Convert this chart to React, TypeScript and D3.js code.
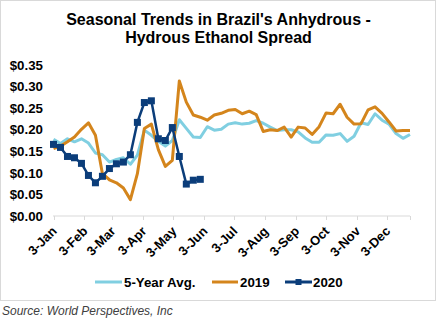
import React from "react";
import * as d3 from "d3";

const W = 437;
const H = 321;

const title1 = "Seasonal Trends in Brazil's Anhydrous -";
const title2 = "Hydrous Ethanol Spread";
const sourceText = "Source: World Perspectives, Inc";

const seriesNames = ["5-Year Avg.", "2019", "2020"];
const seriesColors = ["#80cfe1", "#d4851c", "#0b3d7a"];

const startDate = new Date(2019, 0, 3);
const endDate = new Date(2019, 11, 26);

const avg5 = [
  0.178, 0.168, 0.179, 0.172, 0.179, 0.169, 0.146, 0.142, 0.125, 0.131,
  0.135, 0.12, 0.141, 0.199, 0.187, 0.173, 0.162, 0.175, 0.223, 0.203,
  0.183, 0.182, 0.207, 0.199, 0.201, 0.213, 0.216, 0.213, 0.215, 0.221,
  0.215, 0.206, 0.198, 0.2, 0.2, 0.195, 0.181, 0.171, 0.171, 0.188,
  0.187, 0.191, 0.173, 0.185, 0.216, 0.212, 0.237, 0.222, 0.213, 0.191,
  0.18, 0.189,
];

const y2019 = [
  0.156, 0.162, 0.172, 0.183, 0.201, 0.216, 0.187, 0.098, 0.084, 0.077,
  0.065, 0.038, 0.098, 0.203, 0.213, 0.154, 0.115, 0.129, 0.313, 0.264,
  0.234, 0.229, 0.222, 0.234, 0.238, 0.245, 0.247, 0.237, 0.243, 0.235,
  0.196, 0.2, 0.198, 0.206, 0.183, 0.206, 0.204, 0.189, 0.207, 0.239,
  0.237, 0.259, 0.229, 0.213, 0.214, 0.246, 0.253, 0.238, 0.218, 0.197,
  0.198, 0.198,
];

const y2020 = [
  0.166, 0.159, 0.138, 0.135, 0.122, 0.094, 0.077, 0.092, 0.11, 0.121,
  0.125, 0.142, 0.217, 0.263, 0.267, 0.179, 0.175, 0.205, 0.138, 0.074,
  0.083, 0.085,
];

const yTicks = [0, 0.05, 0.1, 0.15, 0.2, 0.25, 0.3, 0.35];

export default function App() {
  const x = d3.scaleTime().domain([startDate, endDate]).range([53.5, 410]);
  const y = d3.scaleLinear().domain([0, 0.35]).range([216, 65]);

  const dateOf = (i: number) => d3.timeDay.offset(startDate, 7 * i);
  const line = d3
    .line<number>()
    .x((_, i) => x(dateOf(i)))
    .y((d) => y(d));

  const xTicks = d3.range(12).map((m) => new Date(2019, m, 3));
  const fmtX = d3.timeFormat("%-d-%b");
  const fmtY = d3.format("$.2f");

  const font = "Liberation Sans, Arial, sans-serif";

  const legendItems = [
    { name: seriesNames[0], color: seriesColors[0], x0: 95, x1: 122, tx: 124, marker: false },
    { name: seriesNames[1], color: seriesColors[1], x0: 212, x1: 238, tx: 240, marker: false },
    { name: seriesNames[2], color: seriesColors[2], x0: 285, x1: 312, tx: 313, marker: true },
  ];

  return (
    <svg
      width={W}
      height={H}
      style={{ position: "absolute", left: 0, top: 0, background: "#fff" }}
      fontFamily={font}
    >
      <rect x={0.5} y={0.5} width={435} height={300} fill="#fff" stroke="#d9d9d9" />
      <text x={218.5} y={25} textAnchor="middle" fontSize={16} fontWeight="bold" fill="#000">
        {title1}
      </text>
      <text x={218.5} y={43} textAnchor="middle" fontSize={16} fontWeight="bold" fill="#000">
        {title2}
      </text>

      {yTicks.map((t) => (
        <text
          key={t}
          x={43}
          y={y(t)}
          dy="0.35em"
          textAnchor="end"
          fontSize={13.3}
          fontWeight="bold"
          fill="#000"
        >
          {fmtY(t)}
        </text>
      ))}

      <line x1={53} x2={410} y1={216} y2={216} stroke="#d9d9d9" strokeWidth={1} />
      {xTicks.concat([endDate]).map((d, i) => (
        <line
          key={i}
          x1={Math.round(x(d)) + 0.5}
          x2={Math.round(x(d)) + 0.5}
          y1={216}
          y2={220}
          stroke="#d9d9d9"
        />
      ))}
      {xTicks.map((d, i) => (
        <text
          key={i}
          transform={`translate(${x(d) + 4},${232}) rotate(-45)`}
          textAnchor="end"
          fontSize={13}
          fontWeight="bold"
          fill="#000"
        >
          {fmtX(d)}
        </text>
      ))}

      <path d={line(avg5) || ""} fill="none" stroke={seriesColors[0]} strokeWidth={3} strokeLinejoin="round" />
      <path d={line(y2019) || ""} fill="none" stroke={seriesColors[1]} strokeWidth={3} strokeLinejoin="round" />
      <path d={line(y2020) || ""} fill="none" stroke={seriesColors[2]} strokeWidth={2.5} strokeLinejoin="round" />
      {y2020.map((v, i) => (
        <rect
          key={i}
          x={x(dateOf(i)) - 3.5}
          y={y(v) - 3.5}
          width={7}
          height={7}
          fill={seriesColors[2]}
        />
      ))}

      {legendItems.map((it) => (
        <g key={it.name}>
          <line x1={it.x0} x2={it.x1} y1={282} y2={282} stroke={it.color} strokeWidth={3} />
          {it.marker && (
            <rect x={(it.x0 + it.x1) / 2 - 3} y={279} width={6} height={6} fill={it.color} />
          )}
          <text x={it.tx} y={282} dy="0.35em" fontSize={13.3} fontWeight="bold" fill="#000">
            {it.name}
          </text>
        </g>
      ))}

      <text x={2} y={314.5} fontSize={12} fontStyle="italic" fill="#404040">
        {sourceText}
      </text>
    </svg>
  );
}
